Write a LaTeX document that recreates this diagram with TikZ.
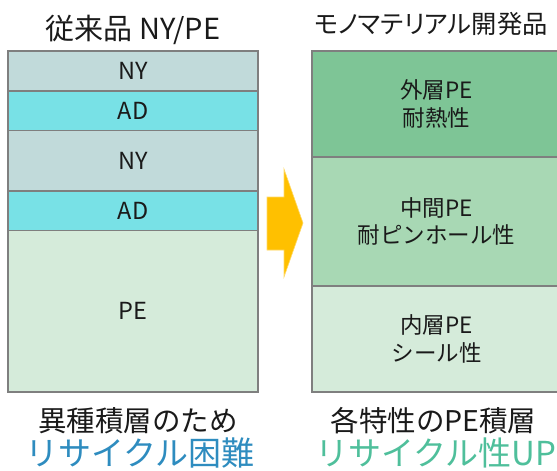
\documentclass[tikz,border=0pt]{standalone}
\usepackage{fontspec}
\setmainfont{Noto Sans CJK JP}
\newfontfamily\paltfont[RawFeature=+palt]{Noto Sans CJK JP}
\definecolor{nyc}{HTML}{C1DADA}
\definecolor{adc}{HTML}{78E1E6}
\definecolor{pec}{HTML}{D5EBDA}
\definecolor{outc}{HTML}{7EC596}
\definecolor{midc}{HTML}{A8D8B4}
\definecolor{edgec}{HTML}{7F7F7F}
\definecolor{arrc}{HTML}{FFC000}
\definecolor{arredge}{HTML}{FFD966}
\definecolor{bluetxt}{HTML}{2E8CBF}
\definecolor{greentxt}{HTML}{4FBF9B}
\definecolor{txt}{HTML}{1A1A1A}
\tikzset{
  layer/.style={draw=edgec, line width=1.5pt, minimum width=250pt, inner sep=0pt, outer sep=0pt, text=txt, font=\fontsize{23.5}{27}\selectfont},
  rlayer/.style={draw=edgec, line width=1.5pt, minimum width=249pt, inner sep=0pt, outer sep=0pt, text=txt, align=center, font=\fontsize{22.5}{27.5}\selectfont},
  title/.style={text=txt, inner sep=0pt, font=\fontsize{29}{32}\selectfont},
  note/.style={text=txt, inner sep=0pt, font=\fontsize{28.5}{32}\selectfont},
  big/.style={inner sep=0pt, font=\fontsize{33}{36}\selectfont}
}
\begin{document}
\begin{tikzpicture}[x=1pt, y=-1pt]
\useasboundingbox (0,0) rectangle (557,471);
\clip (0,0) rectangle (557,471);
% titles
\node[title] (t1) at (133,30) {従来品 NY/PE};
\node[title, font=\paltfont\fontsize{25.3}{30}\selectfont] (t2) at (431,23.5) {モノマテリアル開発品};
% left stack
\node[layer, fill=nyc, minimum height=40pt] (ny1) at (133,71) {NY};
\node[layer, fill=adc, minimum height=39.5pt] (ad1) at (133,110.75) {AD};
\node[layer, fill=nyc, minimum height=60.5pt] (ny2) at (133,160.75) {NY};
\node[layer, fill=adc, minimum height=39.5pt] (ad2) at (133,210.75) {AD};
\node[layer, fill=pec, minimum height=161.5pt] (pe) at (133,311.25) {PE};
% right stack
\node[rlayer, fill=outc, minimum height=106pt] (outer) at (436.5,104) {外層PE\\耐熱性};
\node[rlayer, fill=midc, minimum height=129pt] (middle) at (436.5,221.5) {中間PE\\耐ピンホール性};
\node[rlayer, fill=pec, minimum height=106pt] (inner) at (436.5,339) {内層PE\\シール性};
% arrow
\filldraw[fill=arrc, draw=arredge, line width=0.6pt, line join=miter]
  (267,197) -- (284,197) -- (284,169) -- (303,223) -- (284,277) -- (284,250) -- (267,250) -- cycle;
% bottom notes
\node[note] (n1) at (138,421) {異種積層のため};
\node[big, text=bluetxt] (n2) at (140,453) {リサイクル困難};
\node[note] (n3) at (433.5,421) {各特性のPE積層};
\node[big, text=greentxt] (n4) at (436,453) {リサイクル性UP};
\end{tikzpicture}
\end{document}
